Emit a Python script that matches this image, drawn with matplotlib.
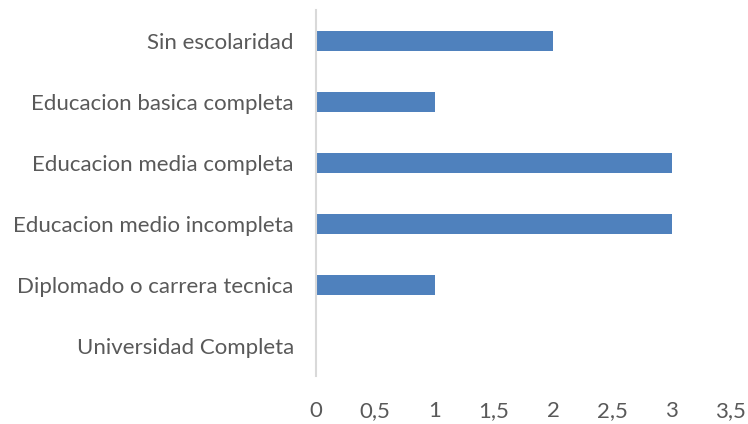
import matplotlib
matplotlib.use("Agg")
import matplotlib.pyplot as plt

categorias = [
    "Universidad Completa",
    "Diplomado o carrera tecnica",
    "Educacion medio incompleta",
    "Educacion media completa",
    "Educacion basica completa",
    "Sin escolaridad",
]
valores = [0, 1, 3, 3, 1, 2]
ticks = [0, 0.5, 1, 1.5, 2, 2.5, 3, 3.5]
tick_labels = ["0", "0,5", "1", "1,5", "2", "2,5", "3", "3,5"]

plt.rcParams["font.family"] = ["Lato", "DejaVu Sans"]
gris = "#595959"

fig = plt.figure(figsize=(7.48, 4.24), dpi=100)
ax = fig.add_axes([0.4225, 0.113, 0.5545, 0.863])

y = range(len(categorias))
ax.barh(y, valores, height=0.33, color="#4F81BD")

ax.set_xlim(0, 3.5)
ax.set_ylim(-0.5, len(categorias) - 0.5)
ax.set_xticks(ticks)
ax.set_xticklabels(tick_labels)
ax.set_yticks(list(y))
ax.set_yticklabels(categorias)

for s in ["top", "right", "bottom"]:
    ax.spines[s].set_visible(False)
ax.spines["left"].set_color("#D9D9D9")
ax.spines["left"].set_linewidth(1.5)

ax.tick_params(axis="both", length=0, labelsize=16, colors=gris)
ax.tick_params(axis="x", pad=18)
ax.tick_params(axis="y", pad=16)

fig.savefig("out.png", dpi=100)
